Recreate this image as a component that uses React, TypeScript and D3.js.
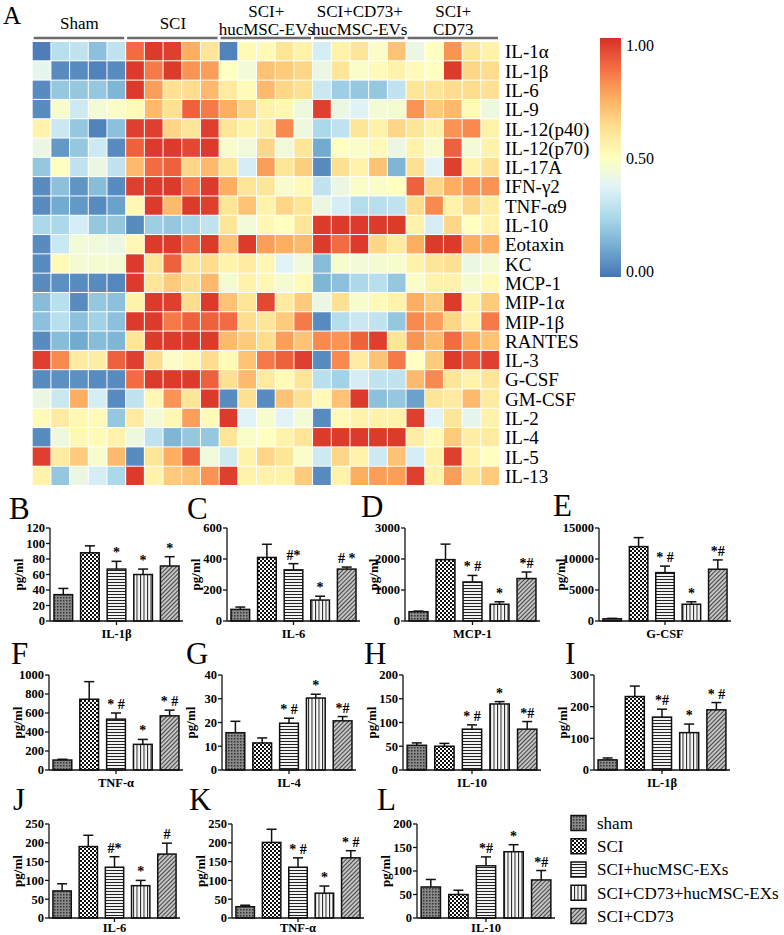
import React from 'react';
import * as d3 from 'd3';

// heatmap (panel A)
const rowLabels = ['IL-1α', 'IL-1β', 'IL-6', 'IL-9', 'IL-12(p40)', 'IL-12(p70)', 'IL-17A', 'IFN-γ2', 'TNF-α9', 'IL-10', 'Eotaxin', 'KC', 'MCP-1', 'MIP-1α', 'MIP-1β', 'RANTES', 'IL-3', 'G-CSF', 'GM-CSF', 'IL-2', 'IL-4', 'IL-5', 'IL-13'];
const heatGroups = [['Sham'], ['SCI'], ['SCI+', 'hucMSC-EVs'], ['SCI+CD73+', 'hucMSC-EVs'], ['SCI+', 'CD73']];
const heatValues = [
  [0.02, 0.28, 0.3, 0.18, 0.3, 0.88, 0.98, 0.97, 0.75, 0.6, 0.03, 0.52, 0.52, 0.6, 0.55, 0.35, 0.55, 0.6, 0.48, 0.7, 0.42, 0.5, 0.8, 0.6, 0.55],
  [0.4, 0.05, 0.05, 0.03, 0.05, 0.98, 0.85, 0.98, 0.8, 0.78, 0.5, 0.45, 0.7, 0.68, 0.65, 0.42, 0.6, 0.48, 0.52, 0.55, 0.52, 0.5, 0.98, 0.65, 0.63],
  [0.05, 0.2, 0.2, 0.2, 0.15, 0.98, 0.78, 0.62, 0.63, 0.72, 0.58, 0.52, 0.72, 0.65, 0.62, 0.32, 0.22, 0.2, 0.2, 0.3, 0.6, 0.6, 0.63, 0.63, 0.62],
  [0.05, 0.47, 0.33, 0.45, 0.48, 0.52, 0.72, 0.62, 0.9, 0.85, 0.75, 0.65, 0.55, 0.53, 0.43, 0.97, 0.42, 0.37, 0.45, 0.46, 0.8, 0.68, 0.72, 0.52, 0.43],
  [0.55, 0.32, 0.2, 0.03, 0.18, 0.97, 0.97, 0.65, 0.6, 0.97, 0.6, 0.55, 0.57, 0.82, 0.43, 0.25, 0.3, 0.6, 0.55, 0.65, 0.6, 0.55, 0.8, 0.82, 0.55],
  [0.42, 0.08, 0.2, 0.33, 0.05, 0.9, 0.98, 0.98, 0.95, 0.98, 0.47, 0.44, 0.65, 0.44, 0.6, 0.12, 0.5, 0.48, 0.52, 0.42, 0.55, 0.47, 0.9, 0.45, 0.55],
  [0.2, 0.5, 0.3, 0.42, 0.3, 0.72, 0.88, 0.9, 0.65, 0.72, 0.6, 0.35, 0.78, 0.6, 0.67, 0.05, 0.62, 0.55, 0.7, 0.15, 0.62, 0.38, 0.97, 0.55, 0.62],
  [0.05, 0.18, 0.07, 0.17, 0.05, 0.97, 0.98, 0.98, 0.85, 0.98, 0.75, 0.6, 0.6, 0.47, 0.52, 0.3, 0.42, 0.48, 0.48, 0.5, 0.9, 0.65, 0.75, 0.8, 0.8],
  [0.05, 0.12, 0.08, 0.05, 0.1, 0.53, 0.98, 0.72, 0.98, 0.97, 0.6, 0.7, 0.55, 0.65, 0.6, 0.42, 0.35, 0.27, 0.28, 0.3, 0.63, 0.82, 0.55, 0.65, 0.57],
  [0.25, 0.25, 0.35, 0.2, 0.2, 0.05, 0.22, 0.2, 0.24, 0.3, 0.6, 0.45, 0.53, 0.5, 0.6, 0.98, 0.98, 0.98, 0.98, 0.98, 0.55, 0.35, 0.65, 0.5, 0.55],
  [0.05, 0.32, 0.45, 0.44, 0.42, 0.53, 0.98, 0.98, 0.88, 0.98, 0.7, 0.98, 0.78, 0.75, 0.72, 0.98, 0.88, 0.98, 0.65, 0.58, 0.75, 0.98, 0.98, 0.75, 0.75],
  [0.05, 0.52, 0.46, 0.46, 0.46, 0.98, 0.6, 0.9, 0.6, 0.63, 0.55, 0.58, 0.53, 0.38, 0.44, 0.17, 0.47, 0.45, 0.46, 0.47, 0.55, 0.6, 0.62, 0.42, 0.45],
  [0.05, 0.06, 0.05, 0.05, 0.04, 0.98, 0.6, 0.68, 0.62, 0.72, 0.46, 0.55, 0.53, 0.46, 0.52, 0.15, 0.18, 0.25, 0.28, 0.2, 0.48, 0.55, 0.55, 0.46, 0.52],
  [0.17, 0.28, 0.05, 0.2, 0.18, 0.55, 0.98, 0.97, 0.63, 0.98, 0.7, 0.6, 0.95, 0.58, 0.68, 0.42, 0.62, 0.47, 0.52, 0.55, 0.75, 0.68, 0.98, 0.55, 0.68],
  [0.18, 0.28, 0.18, 0.23, 0.18, 0.98, 0.98, 0.85, 0.9, 0.9, 0.88, 0.63, 0.6, 0.68, 0.85, 0.05, 0.27, 0.32, 0.3, 0.2, 0.82, 0.78, 0.65, 0.55, 0.85],
  [0.05, 0.17, 0.12, 0.17, 0.15, 0.6, 0.98, 0.98, 0.98, 0.98, 0.72, 0.68, 0.63, 0.78, 0.7, 0.82, 0.8, 0.9, 0.97, 0.6, 0.8, 0.72, 0.88, 0.75, 0.7],
  [0.97, 0.82, 0.58, 0.57, 0.9, 0.97, 0.63, 0.48, 0.53, 0.63, 0.52, 0.7, 0.85, 0.9, 0.97, 0.05, 0.82, 0.58, 0.7, 0.85, 0.5, 0.68, 0.98, 0.92, 0.97],
  [0.05, 0.06, 0.06, 0.05, 0.05, 0.88, 0.98, 0.98, 0.98, 0.9, 0.62, 0.72, 0.58, 0.52, 0.6, 0.28, 0.23, 0.35, 0.3, 0.3, 0.72, 0.82, 0.6, 0.55, 0.6],
  [0.42, 0.32, 0.75, 0.35, 0.05, 0.3, 0.53, 0.8, 0.6, 0.98, 0.05, 0.62, 0.05, 0.7, 0.62, 0.52, 0.7, 0.98, 0.18, 0.2, 0.1, 0.6, 0.58, 0.72, 0.58],
  [0.52, 0.58, 0.53, 0.52, 0.2, 0.58, 0.45, 0.53, 0.78, 0.52, 0.98, 0.38, 0.47, 0.38, 0.45, 0.05, 0.52, 0.55, 0.55, 0.55, 0.97, 0.38, 0.6, 0.4, 0.55],
  [0.05, 0.43, 0.53, 0.52, 0.55, 0.43, 0.3, 0.15, 0.2, 0.2, 0.6, 0.48, 0.5, 0.55, 0.6, 0.98, 0.98, 0.98, 0.98, 0.98, 0.57, 0.52, 0.68, 0.57, 0.58],
  [0.97, 0.58, 0.68, 0.47, 0.72, 0.05, 0.6, 0.75, 0.9, 0.44, 0.33, 0.55, 0.65, 0.6, 0.48, 0.33, 0.65, 0.55, 0.33, 0.7, 0.35, 0.55, 0.97, 0.55, 0.5],
  [0.55, 0.2, 0.42, 0.35, 0.25, 0.98, 0.55, 0.68, 0.7, 0.8, 0.97, 0.55, 0.55, 0.55, 0.68, 0.05, 0.55, 0.75, 0.78, 0.78, 0.97, 0.55, 0.78, 0.6, 0.68],
];
const colorbarTicks = [0, 0.5, 1];

// bar panels (B-L)
const groups = ['sham', 'SCI', 'SCI+hucMSC-EXs', 'SCI+CD73+hucMSC-EXs', 'SCI+CD73'];
const patternIds = ['patSham', 'patSci', 'patEvs', 'patCd73Evs', 'patCd73'];

const bMeans = [34, 88, 67, 60, 71];
const bSem = [8, 9, 10, 7, 12];
const bMarks = ['', '', '*', '*', '*'];
const cMeans = [75, 410, 330, 135, 335];
const cSem = [15, 85, 40, 25, 13];
const cMarks = ['', '', '#*', '*', '# *'];
const dMeans = [300, 1980, 1260, 540, 1370];
const dSem = [20, 500, 210, 80, 210];
const dMarks = ['', '', '* #', '*', '*#'];
const eMeans = [350, 12000, 7800, 2700, 8350];
const eSem = [80, 1450, 1050, 400, 1500];
const eMarks = ['', '', '* #', '*', '*#'];
const fMeans = [105, 745, 535, 270, 570];
const fSem = [8, 185, 65, 52, 60];
const fMarks = ['', '', '* #', '*', '* #'];
const gMeans = [15.7, 11.4, 19.7, 30.3, 20.7];
const gSem = [4.8, 2.1, 2.1, 1.6, 1.8];
const gMarks = ['', '', '* #', '*', '*#'];
const hMeans = [52, 50, 86, 139, 86];
const hSem = [5, 6, 9, 5, 16];
const hMarks = ['', '', '* #', '*', '*#'];
const iMeans = [32, 232, 167, 118, 190];
const iSem = [6, 33, 25, 27, 23];
const iMarks = ['', '', '*#', '*', '* #'];
const jMeans = [72, 190, 135, 86, 170];
const jSem = [19, 30, 28, 14, 29];
const jMarks = ['', '', '#*', '*', '#'];
const kMeans = [30, 201, 135, 66, 160];
const kSem = [4, 35, 25, 19, 19];
const kMarks = ['', '', '* #', '*', '* #'];
const lMeans = [66, 50, 111, 141, 81];
const lSem = [16, 9, 19, 15, 20];
const lMarks = ['', '', '*#', '*', '*#'];

const SERIF = "'Liberation Serif', 'Times New Roman', serif";

const heatColor = d3.scaleLinear<string>()
  .domain(d3.range(9).map(i => i / 8))
  .range(['#4575b4', '#74add1', '#abd9e9', '#e0f3f8', '#ffffbf', '#fee090', '#fdae61', '#f46d43', '#d73027']);

const panels = [
  { letter: 'B', lx: 9, ly: 519, name: 'IL-1β', means: bMeans, sem: bSem, marks: bMarks, max: 120, step: 20, x: 50, w: 133, top: 528, bottom: 621, lab: 17 },
  { letter: 'C', lx: 187, ly: 519, name: 'IL-6', means: cMeans, sem: cSem, marks: cMarks, max: 600, step: 200, x: 227, w: 133, top: 528, bottom: 621, lab: 17 },
  { letter: 'D', lx: 361, ly: 517, name: 'MCP-1', means: dMeans, sem: dSem, marks: dMarks, max: 3000, step: 1000, x: 405, w: 135, top: 528, bottom: 621, lab: 17 },
  { letter: 'E', lx: 553, ly: 516, name: 'G-CSF', means: eMeans, sem: eSem, marks: eMarks, max: 15000, step: 5000, x: 599, w: 132, top: 528, bottom: 621, lab: 17 },
  { letter: 'F', lx: 11, ly: 664, name: 'TNF-α', means: fMeans, sem: fSem, marks: fMarks, max: 1000, step: 200, x: 49, w: 134, top: 675, bottom: 770, lab: 17 },
  { letter: 'G', lx: 186, ly: 664, name: 'IL-4', means: gMeans, sem: gSem, marks: gMarks, max: 40, step: 10, x: 222, w: 134, top: 675, bottom: 770, lab: 17 },
  { letter: 'H', lx: 364, ly: 664, name: 'IL-10', means: hMeans, sem: hSem, marks: hMarks, max: 200, step: 50, x: 403, w: 138, top: 675, bottom: 770, lab: 17 },
  { letter: 'I', lx: 565, ly: 664, name: 'IL-1β', means: iMeans, sem: iSem, marks: iMarks, max: 300, step: 100, x: 594, w: 136, top: 675, bottom: 770, lab: 17 },
  { letter: 'J', lx: 13, ly: 810, name: 'IL-6', means: jMeans, sem: jSem, marks: jMarks, max: 250, step: 50, x: 49, w: 131, top: 824, bottom: 918, lab: 14 },
  { letter: 'K', lx: 189, ly: 810, name: 'TNF-α', means: kMeans, sem: kSem, marks: kMarks, max: 250, step: 50, x: 232, w: 132, top: 824, bottom: 918, lab: 14 },
  { letter: 'L', lx: 377, ly: 810, name: 'IL-10', means: lMeans, sem: lSem, marks: lMarks, max: 200, step: 50, x: 417, w: 138, top: 824, bottom: 918, lab: 14 },
];

function Patterns() {
  return (
    <defs>
      <pattern id="patSham" width="3" height="3" patternUnits="userSpaceOnUse">
        <rect width="3" height="3" fill="#8a8a8a" />
        <rect width="1.5" height="1.5" fill="#333" />
      </pattern>
      <pattern id="patSci" width="4" height="4" patternUnits="userSpaceOnUse">
        <rect width="4" height="4" fill="#fff" />
        <rect width="2" height="2" fill="#111" />
        <rect x="2" y="2" width="2" height="2" fill="#111" />
      </pattern>
      <pattern id="patEvs" width="3" height="3" patternUnits="userSpaceOnUse">
        <rect width="3" height="3" fill="#f2f2f2" />
        <rect width="3" height="1" fill="#222" />
      </pattern>
      <pattern id="patCd73Evs" width="3.5" height="3" patternUnits="userSpaceOnUse">
        <rect width="3.5" height="3" fill="#f7f7f7" />
        <rect width="1" height="3" fill="#222" />
      </pattern>
      <pattern id="patCd73" width="3" height="3" patternUnits="userSpaceOnUse" patternTransform="rotate(45)">
        <rect width="3" height="3" fill="#c4c4c4" />
        <rect width="1" height="3" fill="#444" />
      </pattern>
      <linearGradient id="cbGrad" x1="0" y1="1" x2="0" y2="0">
        {d3.range(9).map(i => (
          <stop key={i} offset={`${i * 12.5}%`} stopColor={heatColor(i / 8)} />
        ))}
      </linearGradient>
    </defs>
  );
}

function Heatmap() {
  const x = d3.scaleBand<number>().domain(d3.range(25)).range([32.7, 500]);
  const y = d3.scaleBand<number>().domain(d3.range(rowLabels.length)).range([42, 486]);
  const cb = d3.scaleLinear().domain([0, 1]).range([271, 45]);
  return (
    <g fontFamily={SERIF}>
      <text x={3} y={24} fontSize={25}>A</text>
      {heatGroups.map((lines, g) => {
        const x0 = x(g * 5)!;
        const x1 = x(g * 5 + 4)! + x.bandwidth();
        const cx = (x0 + x1) / 2;
        return (
          <g key={g}>
            <line x1={x0 + 1} x2={x1 - 2} y1={38} y2={38} stroke="#6b6b6b" strokeWidth={2.5} />
            {lines.length === 1
              ? <text x={cx} y={29} fontSize={17} textAnchor="middle">{lines[0]}</text>
              : lines.map((t, k) => (
                <text key={k} x={cx} y={17 + k * 18} fontSize={17} textAnchor="middle">{t}</text>
              ))}
          </g>
        );
      })}
      {heatValues.map((row, r) =>
        row.map((v, c) => (
          <rect key={`${r}-${c}`} x={x(c)} y={y(r)} width={x.bandwidth() - 1} height={y.bandwidth() - 1}
            fill={heatColor(v)} />
        ))
      )}
      {rowLabels.map((t, r) => (
        <text key={t} x={505} y={y(r)! + y.bandwidth() / 2} dy="0.35em" fontSize={19}>{t}</text>
      ))}
      <rect x={600} y={38} width={21} height={239} fill="url(#cbGrad)" />
      {colorbarTicks.map(t => (
        <text key={t} x={626} y={cb(t)} dy="0.35em" fontSize={16}>{t.toFixed(2)}</text>
      ))}
    </g>
  );
}

function BarPanel({ p }: { p: typeof panels[number] }) {
  const x = d3.scaleBand<string>().domain(groups).range([p.x, p.x + p.w]).paddingInner(0.3).paddingOuter(0.15);
  const y = d3.scaleLinear().domain([0, p.max]).range([p.bottom, p.top]);
  const ticks = d3.range(0, p.max + p.step / 2, p.step);
  const labelOffset = String(p.max).length >= 5 ? 39 : 32;
  const mid = p.x + p.w / 2;
  return (
    <g fontFamily={SERIF}>
      <text x={p.lx} y={p.ly} fontSize={31}>{p.letter}</text>
      {groups.map((g, i) => {
        const bx = x(g)!;
        const cx = bx + x.bandwidth() / 2;
        const yt = y(p.means[i] + p.sem[i]);
        return (
          <g key={g}>
            <line x1={cx} x2={cx} y1={y(p.means[i])} y2={yt} stroke="#111" strokeWidth={1.5} />
            <line x1={cx - 5} x2={cx + 5} y1={yt} y2={yt} stroke="#111" strokeWidth={1.5} />
            <rect x={bx} y={y(p.means[i])} width={x.bandwidth()} height={p.bottom - y(p.means[i])}
              fill={`url(#${patternIds[i]})`} stroke="#111" strokeWidth={1.5} />
            {p.marks[i] && (
              <text x={cx} y={yt - 4} fontSize={14} fontWeight="bold" textAnchor="middle">{p.marks[i]}</text>
            )}
          </g>
        );
      })}
      <line x1={p.x} x2={p.x} y1={p.top} y2={p.bottom} stroke="#111" strokeWidth={1.3} />
      <line x1={p.x} x2={p.x + p.w} y1={p.bottom} y2={p.bottom} stroke="#111" strokeWidth={1.3} />
      <line x1={mid} x2={mid} y1={p.bottom} y2={p.bottom + 4} stroke="#111" strokeWidth={1.3} />
      {ticks.map(t => (
        <g key={t}>
          <line x1={p.x - 4} x2={p.x} y1={y(t)} y2={y(t)} stroke="#111" strokeWidth={1.3} />
          <text x={p.x - 5} y={y(t)} dy="0.35em" fontSize={12.5} fontWeight="bold" textAnchor="end">{t}</text>
        </g>
      ))}
      <text transform={`translate(${p.x - labelOffset},${(p.top + p.bottom) / 2}) rotate(-90)`}
        fontSize={13} fontWeight="bold" textAnchor="middle" dy="0.35em">pg/ml</text>
      <text x={mid} y={p.bottom + p.lab} fontSize={12.5} fontWeight="bold" textAnchor="middle">{p.name}</text>
    </g>
  );
}

function Legend() {
  const y = d3.scalePoint<string>().domain(groups).range([823, 916]);
  return (
    <g fontFamily={SERIF}>
      {groups.map((g, i) => (
        <g key={g}>
          <rect x={571} y={y(g)! - 7.5} width={15} height={15} fill={`url(#${patternIds[i]})`} stroke="#111" strokeWidth={1.5} />
          <text x={597} y={y(g)} dy="0.35em" fontSize={17}>{g}</text>
        </g>
      ))}
    </g>
  );
}

export default function App() {
  return (
    <svg width={784} height={935} style={{ position: 'absolute', left: 0, top: 0, background: '#fff' }}>
      <Patterns />
      <rect width={784} height={935} fill="#fff" />
      <Heatmap />
      {panels.map(p => <BarPanel key={p.letter} p={p} />)}
      <Legend />
    </svg>
  );
}
